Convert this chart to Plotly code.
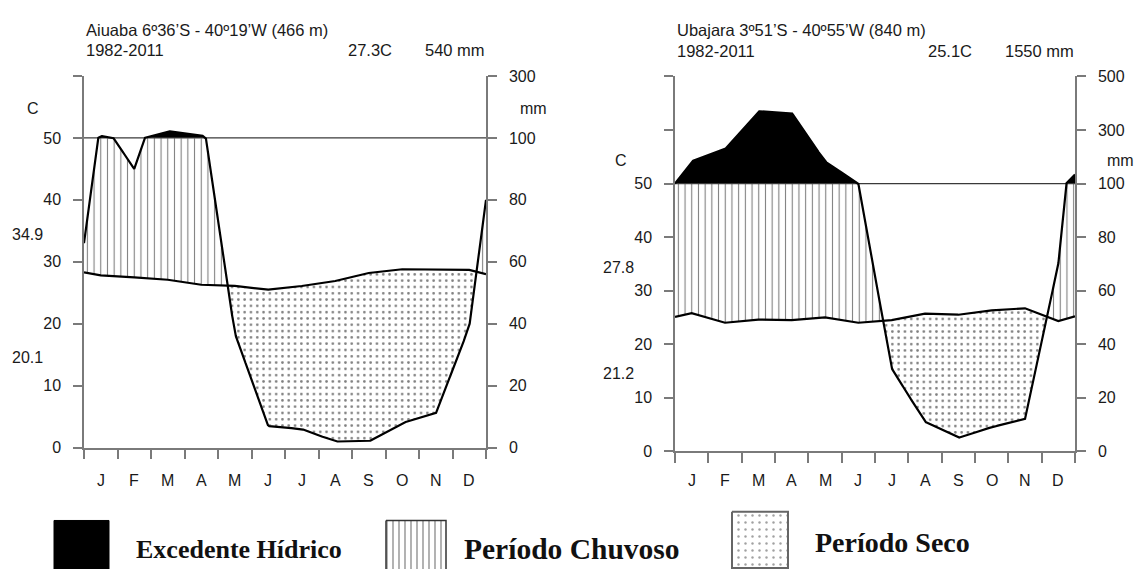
import numpy as np
import plotly.graph_objects as go

# ---------------- data ----------------
months = ["J", "F", "M", "A", "M", "J", "J", "A", "S", "O", "N", "D"]

aiu_title = "Aiuaba 6º36’S - 40º19’W (466 m)"
aiu_period = "1982-2011"
aiu_mean_t = "27.3C"
aiu_total_p = "540 mm"
aiu_tmax = "34.9"
aiu_tmin = "20.1"
aiu_temp = [27.8, 27.5, 27.1, 26.3, 26.1, 25.5, 26.1, 26.9, 28.2, 28.8, 28.8, 28.7]
aiu_temp_edges = [28.3, 28.0]
aiu_prec = [106, 90, 122, 110, 37, 7, 6, 2, 2, 8, 11, 39]
aiu_prec_edges = [66, 80]
aiu_left_ticks = ["0", "10", "20", "30", "40", "50", ""]
aiu_right_ticks = ["0", "20", "40", "60", "80", "100", "300"]

uba_title = "Ubajara 3º51’S - 40º55’W (840 m)"
uba_period = "1982-2011"
uba_mean_t = "25.1C"
uba_total_p = "1550 mm"
uba_tmax = "27.8"
uba_tmin = "21.2"
uba_temp = [25.8, 24.0, 24.6, 24.5, 25.0, 24.0, 24.5, 25.7, 25.5, 26.3, 26.7, 24.3]
uba_temp_edges = [25.1, 25.2]
uba_prec = [183, 228, 370, 364, 182, 100, 31, 11, 5, 9, 12, 70]
uba_prec_edges = [100, 134]
uba_left_ticks = ["0", "10", "20", "30", "40", "50", "", ""]
uba_right_ticks = ["0", "20", "40", "60", "80", "100", "300", "500"]

legend_labels = ["Excedente Hídrico", "Período Chuvoso", "Período Seco"]

# ---------------- layout constants ----------------
W, H = 1138, 578
SANS = "Liberation Sans, Arial, sans-serif"
SERIF = "Liberation Serif, Times New Roman, serif"
AX = "#7a7a7a"
TXT = "#1a1a1a"
FS = 16

panels = [
    dict(x0=84, x1=486, yb=453, yt=70, ymax=60, xa="x", ya="y", ya2="y2",
         temp=aiu_temp, tedge=aiu_temp_edges, prec=aiu_prec, pedge=aiu_prec_edges,
         lt=aiu_left_ticks, rt=aiu_right_ticks,
         title=aiu_title, period=aiu_period, mt=aiu_mean_t, tp=aiu_total_p,
         tmax=aiu_tmax, tmin=aiu_tmin, mt_x=346, hy1=23, hy2=43,
         c_xy=(33, 104), mm_x=(518, "left"), mm_y=104, lab_x=45, tmax_y=233, tmin_y=360),
    dict(x0=675, x1=1075, yb=456.7, yt=70.5, ymax=70, xa="x2", ya="y3", ya2="y4",
         temp=uba_temp, tedge=uba_temp_edges, prec=uba_prec, pedge=uba_prec_edges,
         lt=uba_left_ticks, rt=uba_right_ticks,
         title=uba_title, period=uba_period, mt=uba_mean_t, tp=uba_total_p,
         tmax=uba_tmax, tmin=uba_tmin, mt_x=926, hy1=23, hy2=44,
         c_xy=(621, 157), mm_x=(1136, "right"), mm_y=157, lab_x=636, tmax_y=267, tmin_y=377),
]


def to_display(p):
    p = np.asarray(p, float)
    return np.where(p <= 100, p / 2.0, 50 + (p - 100) / 20.0)


def polys(xs, lo, hi, mask):
    X, Y = [], []
    idx = np.flatnonzero(mask)
    if len(idx) == 0:
        return X, Y
    runs = np.split(idx, np.where(np.diff(idx) > 1)[0] + 1)
    hi = np.maximum(hi, lo)
    for r in runs:
        a, b = max(r[0] - 1, 0), min(r[-1] + 1, len(xs) - 1)
        xx = np.concatenate([xs[a:b + 1], xs[a:b + 1][::-1]])
        yy = np.concatenate([hi[a:b + 1], lo[a:b + 1][::-1]])
        X += list(xx) + [None]
        Y += list(yy) + [None]
    return X, Y


fig = go.Figure()
annotations = []
layout = {}


def txt(x, y, s, xanchor="left", size=FS, family=SANS, xref="x3", color=TXT):
    annotations.append(dict(x=x, y=y, xref=xref, yref="y5", text=s,
                            showarrow=False, xanchor=xanchor, yanchor="middle",
                            font=dict(family=family, size=size, color=color)))


for P in panels:
    x_nodes = np.concatenate([[0], np.arange(12) + 0.5, [12]])
    t_nodes = np.array([P["tedge"][0]] + P["temp"] + [P["tedge"][1]], float)
    p_nodes = np.array([P["pedge"][0]] + P["prec"] + [P["pedge"][1]], float)
    xs = np.linspace(0, 12, 4801)
    T = np.interp(xs, x_nodes, t_nodes)
    Pd = to_display(np.interp(xs, x_nodes, p_nodes))
    fifty = np.full_like(xs, 50.0)

    xa, ya = P["xa"], P["ya"]

    # excess (black)
    X, Y = polys(xs, fifty, Pd, Pd > 50)
    fig.add_trace(go.Scatter(x=X, y=Y, xaxis=xa, yaxis=ya, mode="lines", fill="toself",
                             fillcolor="black", line=dict(width=0, color="black"),
                             hoverinfo="skip", showlegend=False))
    # wet period (vertical hatch)
    X, Y = polys(xs, T, np.minimum(Pd, 50), Pd > T)
    fig.add_trace(go.Scatter(x=X, y=Y, xaxis=xa, yaxis=ya, mode="lines", fill="toself",
                             fillcolor="white",
                             fillpattern=dict(shape="|", fgcolor="black", bgcolor="white",
                                              size=6.7, solidity=0.16),
                             line=dict(width=0, color="black"),
                             hoverinfo="skip", showlegend=False))
    # dry period (dots)
    X, Y = polys(xs, Pd, T, Pd < T)
    fig.add_trace(go.Scatter(x=X, y=Y, xaxis=xa, yaxis=ya, mode="lines", fill="toself",
                             fillcolor="white",
                             fillpattern=dict(shape=".", fgcolor="black", bgcolor="white",
                                              size=6.3, solidity=0.14),
                             line=dict(width=0, color="black"),
                             hoverinfo="skip", showlegend=False))
    # 100 mm reference line
    fig.add_trace(go.Scatter(x=[0, 12], y=[50, 50], xaxis=xa, yaxis=ya, mode="lines",
                             line=dict(width=1.2, color="#3a3a3a"),
                             hoverinfo="skip", showlegend=False))
    # temperature
    fig.add_trace(go.Scatter(x=x_nodes, y=t_nodes, xaxis=xa, yaxis=ya, mode="lines",
                             line=dict(width=2.2, color="black"),
                             hoverinfo="skip", showlegend=False))
    # precipitation
    fig.add_trace(go.Scatter(x=xs, y=Pd, xaxis=xa, yaxis=ya, mode="lines",
                             line=dict(width=2.2, color="black"),
                             hoverinfo="skip", showlegend=False))
    # anchor trace so the right-hand (mm) axis is drawn
    fig.add_trace(go.Scatter(x=[0], y=[0], xaxis=xa, yaxis=P["ya2"], mode="markers",
                             marker=dict(opacity=0, size=1), hoverinfo="skip", showlegend=False))

    xdom = [P["x0"] / W, P["x1"] / W]
    ydom = [1 - P["yb"] / H, 1 - P["yt"] / H]
    xkey = "xaxis" if xa == "x" else "xaxis" + xa[1:]
    ykey = "yaxis" if ya == "y" else "yaxis" + ya[1:]
    y2key = "yaxis" + P["ya2"][1:]
    tv = list(range(0, P["ymax"] + 1, 10))
    layout[xkey] = dict(domain=xdom, range=[0, 12], anchor=ya, tickvals=list(range(13)),
                        ticks="outside", ticklen=10, tickwidth=1.5, tickcolor=AX,
                        showticklabels=False, showline=True, linecolor=AX, linewidth=1.5,
                        showgrid=False, zeroline=False, fixedrange=True)
    layout[ykey] = dict(domain=ydom, range=[0, P["ymax"]], anchor=xa, tickvals=tv,
                        ticktext=P["lt"], ticks="outside", ticklen=9, tickwidth=1.5,
                        tickcolor=AX, showline=True, linecolor=AX, linewidth=1.5,
                        showgrid=False, zeroline=False, ticklabelstandoff=9,
                        tickfont=dict(family=SANS, size=FS, color=TXT), fixedrange=True)
    layout[y2key] = dict(overlaying=ya, side="right", anchor=xa, range=[0, P["ymax"]],
                         tickvals=tv, ticktext=P["rt"], ticks="outside", ticklen=9,
                         tickwidth=1.5, tickcolor=AX, showline=True, linecolor=AX,
                         linewidth=1.5, showgrid=False, zeroline=False, ticklabelstandoff=9,
                         tickfont=dict(family=SANS, size=FS, color=TXT), fixedrange=True)

    txt(P["x0"], P["hy1"], P["title"], size=16.5)
    txt(P["x0"], P["hy2"], P["period"], size=16.5)
    txt(P["mt_x"], P["hy2"], P["mt"], size=16.5)
    txt(P["x1"] + 1, P["hy2"], P["tp"], xanchor="right", size=16.5)
    txt(P["c_xy"][0], P["c_xy"][1], "C", xanchor="center")
    txt(P["mm_x"][0], P["mm_y"], "mm", xanchor=P["mm_x"][1])
    txt(P["lab_x"], P["tmax_y"], P["tmax"], xanchor="right")
    txt(P["lab_x"], P["tmin_y"], P["tmin"], xanchor="right")
    for m, lab in enumerate(months):
        txt(m + 0.5, 487, lab, xanchor="center", xref=xa)

# ---------------- legend (drawn in a pixel-space overlay axis) ----------------
leg_boxes = [(54, 109, 528, 600), (386, 446, 528, 600), (732, 788, 519, 577)]
leg_text = [(134, 558, 26), (462, 557, 29.5), (813, 551, 28)]


def box(b):
    return [b[0], b[1], b[1], b[0], b[0]], [b[2], b[2], b[3], b[3], b[2]]


bx, by = box(leg_boxes[0])
fig.add_trace(go.Scatter(x=bx, y=by, xaxis="x3", yaxis="y5", mode="lines", fill="toself",
                         fillcolor="black", line=dict(width=1, color="black"),
                         hoverinfo="skip", showlegend=False))
bx, by = box(leg_boxes[1])
fig.add_trace(go.Scatter(x=bx, y=by, xaxis="x3", yaxis="y5", mode="lines", fill="toself",
                         fillcolor="white",
                         fillpattern=dict(shape="|", fgcolor="black", bgcolor="white", size=6, solidity=0.2),
                         line=dict(width=1.5, color="#333"), hoverinfo="skip", showlegend=False))
bx, by = box(leg_boxes[2])
fig.add_trace(go.Scatter(x=bx, y=by, xaxis="x3", yaxis="y5", mode="lines", fill="toself",
                         fillcolor="white",
                         fillpattern=dict(shape=".", fgcolor="#444", bgcolor="white", size=7, solidity=0.1),
                         line=dict(width=2, color="#666"), hoverinfo="skip", showlegend=False))
for (tx, ty, fs), lab in zip(leg_text, legend_labels):
    txt(tx, ty, "<b>%s</b>" % lab, size=fs, family=SERIF, color="#111")

layout["xaxis3"] = dict(domain=[0, 1], range=[0, W], anchor="y5", visible=False, fixedrange=True)
layout["yaxis5"] = dict(domain=[0, 1], range=[H, 0], anchor="x3", visible=False, fixedrange=True)

fig.update_layout(width=W, height=H, margin=dict(l=0, r=0, t=0, b=0),
                  paper_bgcolor="white", plot_bgcolor="rgba(0,0,0,0)",
                  showlegend=False, annotations=annotations, **layout)

fig.write_html("out.html", config={"displayModeBar": False},
               post_script="document.body.style.margin='0px';document.body.style.overflow='hidden';")
